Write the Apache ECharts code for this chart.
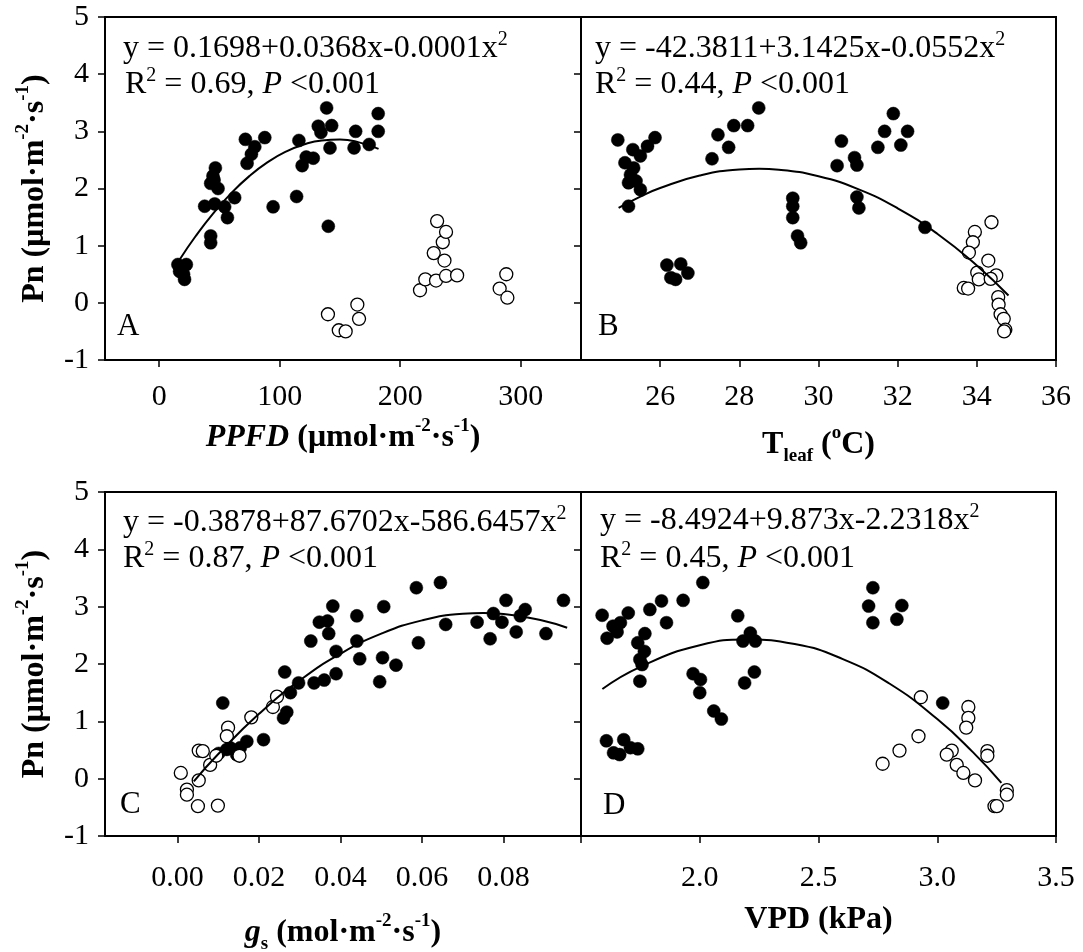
<!DOCTYPE html>
<html><head><meta charset="utf-8">
<script src="https://cdn.jsdelivr.net/npm/echarts@6/dist/echarts.min.js"></script>
<style>html,body{margin:0;padding:0;background:#fff}#c{width:1083px;height:952px}</style>
</head><body><div id="c"></div>
<script>
// ---------- Panel A: PPFD ----------
const ppfdFilled = [[15.5,0.67],[22.5,0.67],[16.9,0.55],[21,0.41],[20.2,0.50],[42.7,1.17],[42.7,1.05],[37.7,1.69],[46,1.73],[54.3,1.68],[56.6,1.49],[62.6,1.84],[46.6,2.36],[44.6,2.22],[42.7,2.09],[48.8,2.0],[45.5,2.15],[71.5,2.86],[79.3,2.73],[76.5,2.6],[72.9,2.44],[87.6,2.89],[94.5,1.68],[115.9,2.84],[114,1.86],[118.6,2.4],[122,2.55],[127.8,2.53],[132,3.09],[134.2,2.98],[138.9,3.41],[143.1,3.1],[141.7,2.71],[140.3,1.34],[163,3.0],[161.7,2.71],[174.2,2.77],[181.7,3.31],[181.7,3.0]];
const ppfdOpen = [[140,-0.2],[149,-0.48],[154.7,-0.5],[164.4,-0.03],[165.8,-0.28],[216.4,0.22],[220.8,0.41],[229.7,0.39],[238,0.47],[247.2,0.48],[227.8,0.87],[236.7,0.74],[235.3,1.06],[238,1.24],[230.6,1.43],[282.5,0.25],[288,0.5],[288.9,0.09]];
const ppfdFit = [[17,0.759],[30,1.160],[45,1.571],[60,1.924],[75,2.221],[90,2.461],[105,2.645],[120,2.771],[135,2.841],[150,2.855],[165,2.811],[182,2.694]];
const ppfdTicks = [0,100,200,300];

// ---------- Panel B: T leaf ----------
const tleafFilled = [[24.93,2.85],[25.31,2.68],[25.5,2.57],[25.68,2.74],[25.87,2.89],[25.11,2.45],[25.33,2.36],[25.25,2.24],[25.2,2.1],[25.39,2.13],[25.5,1.98],[25.2,1.69],[26.17,0.66],[26.52,0.68],[26.27,0.44],[26.39,0.41],[26.7,0.52],[27.31,2.52],[27.46,2.94],[27.73,2.72],[27.86,3.1],[28.21,3.1],[28.49,3.41],[29.35,1.83],[29.35,1.69],[29.35,1.49],[29.47,1.17],[29.55,1.05],[30.47,2.4],[30.58,2.83],[30.91,2.54],[30.97,2.41],[30.97,1.85],[31.02,1.66],[31.5,2.72],[31.67,3.0],[31.89,3.31],[32.08,2.76],[32.25,3.0],[32.69,1.32]];
const tleafOpen = [[34.37,1.41],[33.95,1.24],[33.9,1.06],[33.8,0.88],[34.29,0.74],[34.01,0.53],[34.05,0.41],[34.49,0.48],[34.35,0.42],[33.67,0.26],[33.78,0.25],[34.54,0.1],[34.55,-0.03],[34.6,-0.2],[34.68,-0.28],[34.72,-0.47],[34.69,-0.5]];
const tleafFit = [[24.95,1.662],[25.5,1.859],[26,2.009],[27,2.226],[28,2.332],[28.5,2.344],[29,2.328],[30,2.214],[31,1.989],[32,1.654],[33,1.209],[34,0.653],[34.8,0.128]];
const tleafTicks = [26,28,30,32,34,36];

// ---------- Panel C: gs ----------
const gsFilled = [[0.0111,1.32],[0.0121,0.51],[0.0101,0.44],[0.0129,0.54],[0.0145,0.42],[0.0154,0.54],[0.017,0.65],[0.0211,0.68],[0.026,1.06],[0.0268,1.16],[0.0277,1.5],[0.0263,1.86],[0.0297,1.67],[0.0335,1.67],[0.036,1.72],[0.0389,1.83],[0.0389,2.22],[0.0327,2.4],[0.0348,2.73],[0.0368,2.75],[0.0371,2.53],[0.0381,3.01],[0.044,2.84],[0.044,2.4],[0.0447,2.09],[0.0496,1.69],[0.0503,2.11],[0.0536,1.98],[0.0506,3.0],[0.0586,3.33],[0.0591,2.37],[0.0645,3.42],[0.0658,2.69],[0.0735,2.73],[0.0767,2.44],[0.0775,2.88],[0.0796,2.73],[0.0806,3.11],[0.0831,2.56],[0.0841,2.84],[0.0853,2.95],[0.0904,2.53],[0.0947,3.11]];
const gsOpen = [[0.0008,0.10],[0.0023,-0.19],[0.0023,-0.28],[0.0052,-0.03],[0.0052,0.49],[0.0062,0.48],[0.005,-0.48],[0.0099,-0.47],[0.008,0.24],[0.0095,0.40],[0.0124,0.89],[0.0121,0.74],[0.0152,0.40],[0.0181,1.07],[0.0234,1.25],[0.0244,1.43]];
const gsFit = [[0.004,-0.047],[0.01,0.430],[0.02,1.131],[0.03,1.714],[0.04,2.180],[0.05,2.529],[0.06,2.761],[0.07,2.875],[0.075,2.888],[0.08,2.871],[0.09,2.751],[0.0956,2.632]];
const gsTicks = [0,0.02,0.04,0.06,0.08];

// ---------- Panel D: VPD ----------
const vpdFilled = [[1.589,2.85],[1.61,2.45],[1.635,2.66],[1.652,2.56],[1.666,2.72],[1.699,2.89],[1.739,2.37],[1.769,2.53],[1.767,2.22],[1.748,2.08],[1.757,1.99],[1.748,1.7],[1.79,2.95],[1.839,3.1],[1.86,2.72],[1.93,3.11],[2.013,3.42],[1.972,1.83],[2.003,1.73],[2.0,1.5],[2.059,1.18],[2.091,1.04],[1.607,0.66],[1.637,0.45],[1.663,0.42],[1.68,0.68],[1.708,0.54],[1.739,0.52],[2.16,2.84],[2.182,2.4],[2.213,2.54],[2.234,2.4],[2.23,1.86],[2.189,1.67],[2.729,3.33],[2.711,3.01],[2.729,2.72],[2.83,2.78],[2.851,3.02],[3.023,1.32]];
const vpdOpen = [[2.931,1.42],[2.921,0.74],[2.841,0.49],[2.77,0.26],[3.131,1.25],[3.131,1.06],[3.122,0.89],[3.061,0.49],[3.04,0.42],[3.082,0.24],[3.11,0.10],[3.159,-0.03],[3.211,0.48],[3.211,0.40],[3.293,-0.20],[3.293,-0.28],[3.241,-0.48],[3.251,-0.48]];
const vpdFit = [[1.59,1.563],[1.75,1.951],[2.0,2.326],[2.2,2.426],[2.4,2.348],[2.6,2.090],[2.8,1.655],[3.0,1.040],[3.15,0.463],[3.27,-0.072]];
const vpdTicks = [1.5,2.0,2.5,3.0,3.5];

const pnTicksMin = -1, pnTicksMax = 5;

const F = '"Liberation Serif","Times New Roman",serif';
const sup = {fontFamily:F, fontSize:19, fontWeight:'bold', verticalAlign:'top', lineHeight:26, color:'#000'};
const sub = {fontFamily:F, fontSize:19, fontWeight:'bold', verticalAlign:'bottom', lineHeight:20, color:'#000'};
const nb = {fontFamily:F, fontSize:32, fontWeight:'bold', lineHeight:42, color:'#000'};
const nbi = Object.assign({}, nb, {fontStyle:'italic'});
const nameRich = {b:nb, bi:nbi, sup:sup, sub:sub};

const grids = [
  {left:105, top:17, width:476, height:343},
  {left:581, top:17, width:475, height:343},
  {left:105, top:492, width:476, height:344},
  {left:581, top:492, width:475, height:344}
];

function xAx(gi, min, max, ticks, labels, dec, margin, name, gap){
  return {type:'value', gridIndex:gi, min:min, max:max,
    axisLine:{show:true, onZero:false, lineStyle:{color:'#000', width:2}},
    axisTick:{show:true, inside:false, length:7, customValues:ticks, lineStyle:{color:'#000', width:1.5}},
    axisLabel:{show:true, customValues:labels, margin:margin, color:'#000', fontFamily:F, fontSize:30,
      formatter:function(v){return dec>0 ? Number(v).toFixed(dec) : String(Math.round(v));}},
    splitLine:{show:false},
    name:name, nameLocation:'middle', nameGap:gap,
    nameTextStyle:{fontFamily:F, fontSize:32, fontWeight:'bold', color:'#000', rich:nameRich}
  };
}
function yAx(gi, showLabels, name){
  return {type:'value', gridIndex:gi, min:pnTicksMin, max:pnTicksMax, interval:1,
    axisLine:{show:true, onZero:false, lineStyle:{color:'#000', width:2}},
    axisTick:{show:true, inside:false, length:7, lineStyle:{color:'#000', width:1.5}},
    axisLabel:{show:showLabels, margin:16, color:'#000', fontFamily:F, fontSize:30},
    splitLine:{show:false},
    name:name || '', nameLocation:'middle', nameGap:49, nameRotate:90,
    nameTextStyle:{fontFamily:F, fontSize:32, fontWeight:'bold', color:'#000', rich:nameRich}
  };
}
const pnName = '{b|Pn (μmol·m}{sup|-2}{b|·s}{sup|-1}{b|)}';

function pts(gi, filled, open, fit){
  return [
    {type:'scatter', xAxisIndex:gi, yAxisIndex:gi, data:filled, symbol:'circle', symbolSize:13,
      itemStyle:{color:'#000', opacity:1, borderColor:'#000', borderWidth:0.5}, z:3, silent:true},
    {type:'scatter', xAxisIndex:gi, yAxisIndex:gi, data:open, symbol:'circle', symbolSize:13,
      itemStyle:{color:'#fff', opacity:1, borderColor:'#000', borderWidth:1.3}, z:4, silent:true},
    {type:'line', xAxisIndex:gi, yAxisIndex:gi, data:fit, smooth:true, showSymbol:false,
      lineStyle:{color:'#000', width:2}, z:5, silent:true}
  ];
}

const eqRich = {
  n:{fontFamily:F, fontSize:32, lineHeight:37, color:'#000'},
  i:{fontFamily:F, fontSize:32, lineHeight:37, fontStyle:'italic', color:'#000'},
  s:{fontFamily:F, fontSize:20, lineHeight:23, verticalAlign:'top', color:'#000'}
};
function txt(left, top, text){
  return {type:'text', left:left, top:top, z:10, style:{text:text, rich:eqRich, fill:'#000', font:'32px '+F}};
}
function letter(left, top, t){
  return {type:'text', left:left, top:top, z:10, style:{text:t, fill:'#000', font:'31px '+F}};
}

const option = {
  backgroundColor:'#fff',
  animation:false,
  grid: grids.map(g => Object.assign({show:true, borderColor:'#000', borderWidth:2, backgroundColor:'transparent', containLabel:false, outerBoundsMode:'none'}, g)),
  xAxis:[
    xAx(0, -45, 350, ppfdTicks, ppfdTicks, 0, 22, '{bi|PPFD}{b| (μmol·m}{sup|-2}{b|·s}{sup|-1}{b|)}', 57),
    xAx(1, 24, 36, tleafTicks, tleafTicks, 0, 22, '{b|T}{sub|leaf}{b| (}{sup|o}{b|C)}', 64),
    xAx(2, -0.0178, 0.099, gsTicks, gsTicks, 2, 27, '{bi|g}{sub|s}{b| (mol·m}{sup|-2}{b|·s}{sup|-1}{b|)}', 76),
    xAx(3, 1.5, 3.5, vpdTicks, [2.0,2.5,3.0,3.5], 1, 27, '{b|VPD (kPa)}', 63)
  ],
  yAxis:[ yAx(0, true, pnName), yAx(1, false), yAx(2, true, pnName), yAx(3, false) ],
  series:[].concat(
    pts(0, ppfdFilled, ppfdOpen, ppfdFit),
    pts(1, tleafFilled, tleafOpen, tleafFit),
    pts(2, gsFilled, gsOpen, gsFit),
    pts(3, vpdFilled, vpdOpen, vpdFit)
  ),
  graphic:[
    txt(123, 30, '{n|y = 0.1698+0.0368x-0.0001x}{s|2}'),
    txt(125, 66, '{n|R}{s|2}{n| = 0.69, }{i|P}{n| <0.001}'),
    txt(595, 30, '{n|y = -42.3811+3.1425x-0.0552x}{s|2}'),
    txt(595, 66, '{n|R}{s|2}{n| = 0.44, }{i|P}{n| <0.001}'),
    txt(123, 504, '{n|y = -0.3878+87.6702x-586.6457x}{s|2}'),
    txt(123, 540, '{n|R}{s|2}{n| = 0.87, }{i|P}{n| <0.001}'),
    txt(600, 502, '{n|y = -8.4924+9.873x-2.2318x}{s|2}'),
    txt(600, 540, '{n|R}{s|2}{n| = 0.45, }{i|P}{n| <0.001}'),
    letter(117, 311, 'A'),
    letter(598, 311, 'B'),
    letter(120, 789, 'C'),
    letter(603, 790, 'D')
  ]
};
const chart = echarts.init(document.getElementById('c'), null, {renderer:'canvas'});
chart.setOption(option);
</script>
</body></html>
